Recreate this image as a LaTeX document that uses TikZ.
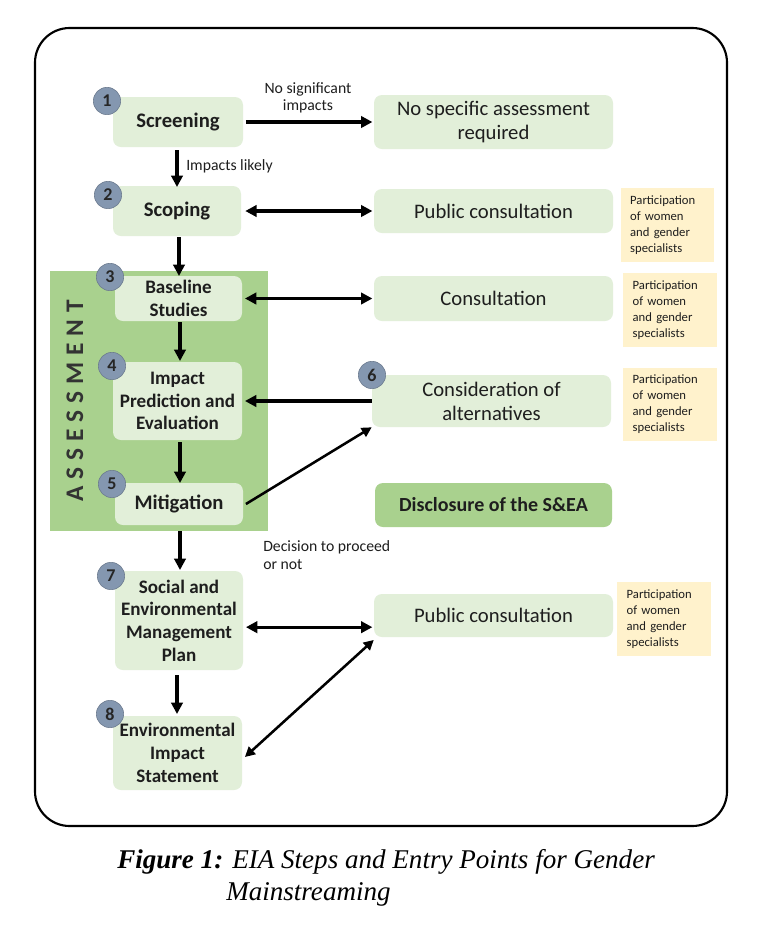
\documentclass[tikz,border=0pt]{standalone}
\usepackage{fontspec}
\setmainfont{Carlito}
\newfontfamily\capfont{Liberation Serif}
\usetikzlibrary{arrows.meta}
\definecolor{boxgreen}{HTML}{E2EFD9}
\definecolor{assessgreen}{HTML}{A9D18E}
\definecolor{notecol}{HTML}{FFF2CC}
\definecolor{numcol}{HTML}{8497B0}
\definecolor{txtcol}{HTML}{1E1E1E}
\newcommand\lsp{\hspace{5.2pt}}
\begin{document}
\begin{tikzpicture}[x=0.75pt,y=-0.75pt,
  wh/.style 2 args={minimum width=#1*0.75pt, minimum height=#2*0.75pt},
  stepbox/.style={fill=boxgreen, rounded corners=6pt, inner sep=0pt, align=center, font=\fontsize{15.5}{17}\selectfont\bfseries, text=txtcol},
  stepml/.style={stepbox, font=\fontsize{14.3}{17}\selectfont\bfseries},
  sidebox/.style={fill=boxgreen, rounded corners=6pt, inner sep=0pt, align=center, font=\fontsize{15.5}{18}\selectfont, text=txtcol},
  notebox/.style={fill=notecol, inner xsep=7pt, inner ysep=0pt, align=left, text width=56pt, font=\fontsize{9.5}{12}\selectfont, text=txtcol},
  num/.style={circle, fill=numcol, draw=numcol!80!black, line width=0.4pt, minimum size=20.5pt, inner sep=0pt, font=\fontsize{13.5}{14}\selectfont\bfseries, text=black!85},
  lbl/.style={font=\fontsize{11.8}{13}\selectfont, text=txtcol, inner sep=0pt},
  arr/.style={line width=2.3pt, -{Triangle[length=8.5pt,width=8.5pt]}},
  darr/.style={line width=2.3pt, {Triangle[length=8.5pt,width=8.5pt]}-{Triangle[length=8.5pt,width=8.5pt]}},
  tarr/.style={line width=1.9pt, -{Triangle[length=7.5pt,width=7.5pt]}},
  tdarr/.style={line width=1.9pt, {Triangle[length=7.5pt,width=7.5pt]}-{Triangle[length=7.5pt,width=7.5pt]}}]
\useasboundingbox (0,0) rectangle (765,933);
\fill[white] (0,0) rectangle (765,933);
% outer frame
\draw[line width=1.6pt, rounded corners=26pt] (35,28) rectangle (727,826);
% assessment panel
\node[fill=assessgreen, inner sep=0pt, wh={218}{260}] (assess) at (159,401) {};
\node[rotate=90, font=\fontsize{19}{20}\selectfont\bfseries, text=black!80] (asslbl) at (75,401) {A\lsp S\lsp S\lsp E\lsp S\lsp S\lsp M\lsp E\lsp N\lsp T};
% left steps
\node[stepbox, wh={130}{50}] (scr) at (178,122) {Screening};
\node[stepbox, wh={128}{50}] (scop) at (177,211) {Scoping};
\node[stepml, wh={127}{45}] (base) at (178.5,298.5) {Baseline\\Studies};
\node[stepml, wh={129}{78}] (imp) at (177.5,401) {Impact\\Prediction and\\Evaluation};
\node[stepbox, wh={128}{42}] (mit) at (179,504) {Mitigation};
\node[stepml, wh={128}{99}] (semp) at (179,620.5) {Social and\\Environmental\\Management\\Plan};
\node[stepml, wh={129}{74}] (eis) at (177.5,753) {Environmental\\Impact\\Statement};
% right boxes
\node[sidebox, wh={239}{54}] (nosp) at (493.5,122) {No specific assessment\\required};
\node[sidebox, wh={239}{44}] (pc1) at (493.5,211) {Public consultation};
\node[sidebox, wh={239}{45}] (cons) at (493.5,298.5) {Consultation};
\node[sidebox, wh={239}{52}] (alt) at (491.5,401) {Consideration of\\alternatives};
\node[sidebox, wh={237}{44}, fill=assessgreen, font=\fontsize{15}{17}\selectfont\bfseries] (disc) at (493.5,505) {Disclosure of the S\&EA};
\node[sidebox, wh={239}{43}] (pc2) at (493.5,615.5) {Public consultation};
% notes
\node[notebox, wh={93}{74}] (note1) at (667.5,225) {Participation\\of women\\and gender\\specialists};
\node[notebox, wh={92}{74}] (note2) at (670,310) {Participation\\of women\\and gender\\specialists};
\node[notebox, wh={92}{73}] (note3) at (670,404.5) {Participation\\of women\\and gender\\specialists};
\node[notebox, wh={90}{74}] (note4) at (664,619) {Participation\\of women\\and gender\\specialists};
% numbers
\node[num] (n1) at (107,101) {1};
\node[num] (n2) at (108,195) {2};
\node[num] (n3) at (110,277) {3};
\node[num] (n4) at (112,366) {4};
\node[num] (n5) at (112,484) {5};
\node[num] (n6) at (372,375) {6};
\node[num] (n7) at (111,576) {7};
\node[num] (n8) at (110,714) {8};
% labels
\node[lbl, align=center] (l1) at (308,98) {No significant\\impacts};
\node[lbl, anchor=west] (l2) at (186,166) {Impacts likely};
\node[lbl, align=left, anchor=north west, font=\fontsize{11.8}{14}\selectfont] (l3) at (263,540) {Decision to proceed\\or not};
% coordinates for vertical arrows
\coordinate (a1s) at (177,150); \coordinate (a1e) at (177,187);
\coordinate (a2s) at (179,237); \coordinate (a2e) at (179,276);
\coordinate (a3s) at (180,322); \coordinate (a3e) at (180,361);
\coordinate (a4s) at (180,442); \coordinate (a4e) at (180,483);
\coordinate (a5s) at (180,531); \coordinate (a5e) at (180,570);
\coordinate (a6s) at (177,675); \coordinate (a6e) at (177,714);
% connectors
\draw[arr] ([xshift=2pt]scr.east) -- ([xshift=-1pt]scr.east -| nosp.west);
\draw[arr] (a1s) -- (a1e);
\draw[darr] ([xshift=3pt]scop.east) -- ([xshift=-1pt]scop.east -| pc1.west);
\draw[arr] (a2s) -- (a2e);
\draw[darr] ([xshift=2pt]base.east) -- ([xshift=-1pt]base.east -| cons.west);
\draw[arr] (a3s) -- (a3e);
\draw[arr] (alt.west |- imp.east) -- ([xshift=2pt]imp.east);
\draw[arr] (a4s) -- (a4e);
\draw[tarr] ([xshift=2pt]mit.east) -- (alt.south west);
\draw[arr] (a5s) -- (a5e);
\draw[darr] ([xshift=2pt,yshift=-5pt]semp.east) -- ([xshift=-1pt,yshift=-5pt]semp.east -| pc2.west);
\draw[arr] (a6s) -- (a6e);
\draw[tdarr] ([xshift=2pt,yshift=-3pt]eis.east) -- ([yshift=-2pt]pc2.south west);
% caption
\node[anchor=base west, inner sep=0pt, font=\capfont\fontsize{20.3}{24}\selectfont\itshape] (cap1) at (117,868) {\textbf{Figure 1:} EIA Steps and Entry Points for Gender};
\node[anchor=base west, inner sep=0pt, font=\capfont\fontsize{20.3}{24}\selectfont\itshape] (cap2) at (226,900) {Mainstreaming};
\end{tikzpicture}
\end{document}
